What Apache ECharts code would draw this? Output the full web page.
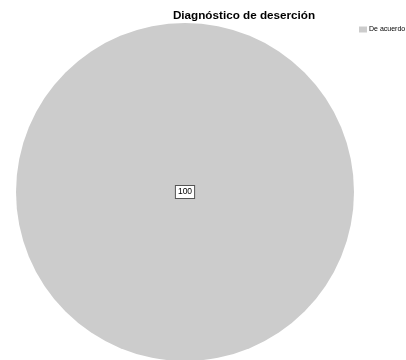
<!DOCTYPE html>
<html>
<head>
<meta charset="utf-8">
<style>
  html, body { margin: 0; padding: 0; background: #fff; }
  #chart { width: 406px; height: 360px; }
</style>
<script src="https://cdn.jsdelivr.net/npm/echarts@6/dist/echarts.min.js"></script>
</head>
<body>
<div id="chart"></div>
<script>
// datos del gráfico
var categorias = ['De acuerdo'];
var valores = [100];
var colores = ['#cccccc'];

var chart = echarts.init(document.getElementById('chart'));

var datos = categorias.map(function (c, i) {
    return { name: c, value: valores[i], itemStyle: { color: colores[i] } };
});

chart.setOption({
    animation: false,
    title: {
        text: 'Diagnóstico de deserción',
        left: 239,
        textAlign: 'center',
        top: 5,
        textStyle: { fontFamily: 'Liberation Sans, Arial', fontSize: 11.7, fontWeight: 'bold', color: '#000' }
    },
    legend: {
        data: categorias,
        left: 354,
        top: 21,
        itemWidth: 8,
        itemHeight: 6,
        itemGap: 4,
        icon: 'rect',
        textStyle: { fontFamily: 'Liberation Sans, Arial', fontSize: 7, color: '#000', padding: [0, 0, 0, -3] }
    },
    series: [{
        type: 'pie',
        center: [185, 192],
        radius: 169,
        silent: true,
        data: datos,
        label: {
            position: 'center',
            formatter: '{c}',
            fontFamily: 'Liberation Sans, Arial',
            fontSize: 8.5,
            color: '#000',
            backgroundColor: '#fff',
            borderColor: '#555',
            borderWidth: 1,
            padding: [2, 2, 1, 2]
        },
        labelLine: { show: false }
    }]
});
</script>
</body>
</html>
